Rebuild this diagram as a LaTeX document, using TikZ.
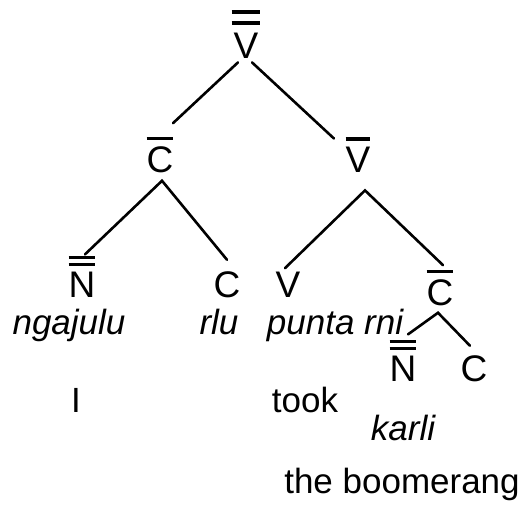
\documentclass[tikz,border=0pt]{standalone}
\usepackage{fontspec}
\setmainfont{Liberation Sans}
\usepackage{tikz}
\usetikzlibrary{calc}

% bar-level categories: one or two rules over the letter
\newcommand\sbar[1]{\vbox{\hrule height 1.8pt\kern 3pt\hbox{#1}}}
\newcommand\dbar[1]{\vbox{\hrule height 1.8pt\kern 1.7pt\hrule height 1.8pt\kern 2.6pt\hbox{#1}}}
\newcommand\dbarwide[1]{\vbox{\hrule height 2pt\kern 3.4pt\hrule height 2pt\kern 4pt\hbox{\kern1pt#1\kern1pt}}}

\begin{document}
\begin{tikzpicture}[
    x=0.5pt, y=-0.5pt,
    cat/.style={inner sep=0pt, anchor=base, font=\fontsize{18.5}{21}\selectfont},
    word/.style={inner sep=0pt, anchor=base, font=\fontsize{17.5}{20}\selectfont\itshape},
    gloss/.style={inner sep=0pt, anchor=base, font=\fontsize{17.5}{20}\selectfont},
    branch/.style={line width=1.3pt, line cap=round, color=black},
]
\useasboundingbox (0,0) rectangle (522,505);

% ── Category nodes ───────────────────────────────────────────────────────
\node[cat] (vtop)  at (246,58)  {\dbarwide{V}};
\node[cat] (cbar)  at (160,172) {\sbar{C}};
\node[cat] (vbar)  at (358,172) {\sbar{V}};
\node[cat] (nbar)  at (82,297)  {\dbar{N}};
\node[cat] (cc)    at (227,297) {C};
\node[cat] (vv)    at (288,297) {V};
\node[cat] (cbartwo) at (440,305) {\sbar{C}};
\node[cat] (nbartwo) at (403,381) {\dbar{N}};
\node[cat] (cctwo)   at (474,381) {C};

% ── Words and glosses ────────────────────────────────────────────────────
\node[word]  (ngajulu) at (69,334)  {ngajulu};
\node[word]  (rlu)     at (219,334) {rlu};
\node[word]  (puntarni) at (335,334) {punta rni};
\node[gloss] (glI)     at (76,412)  {I};
\node[gloss] (took)    at (305,412) {took};
\node[word]  (karli)   at (403,440) {karli};
\node[gloss] (boom)    at (402,493) {the boomerang};

% ── Branches ─────────────────────────────────────────────────────────────
\draw[branch] ($(vtop.south)+(-8,4)$) -- ($(cbar.north)+(13,-13)$);
\draw[branch] ($(vtop.south)+(6,4)$)  -- ($(vbar.north)+(-24,2)$);

\coordinate (capex) at ($(cbar.south)+(2,8)$);
\draw[branch] ($(nbar.north)+(3,-1)$) -- (capex) -- ($(cc.north)+(0,-11)$);

\coordinate (vapex) at ($(vbar.south)+(7,18)$);
\draw[branch] ($(vv.north)+(-3,-3)$) -- (vapex) -- ($(cbartwo.north)+(3,-4)$);

\coordinate (ctwoapex) at ($(cbartwo.south)+(-2,7)$);
\draw[branch] ($(nbartwo.north)+(5,-5)$) -- (ctwoapex) -- ($(cctwo.north)+(-4,-9)$);

\end{tikzpicture}
\end{document}
